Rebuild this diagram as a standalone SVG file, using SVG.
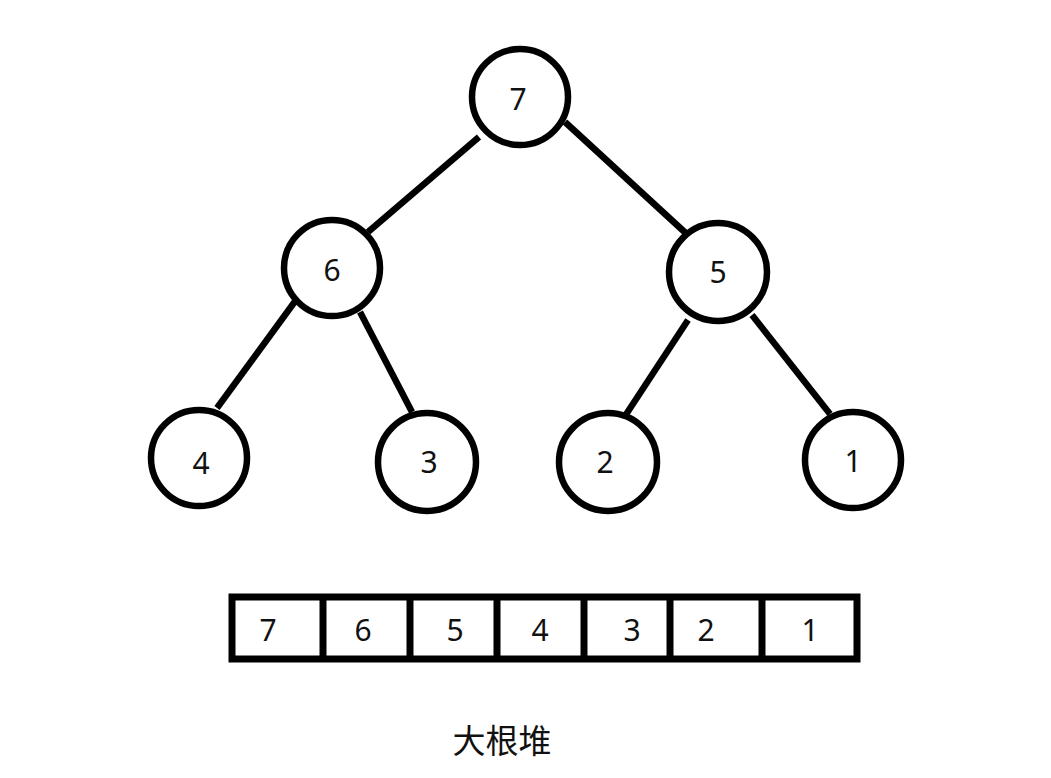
<svg xmlns="http://www.w3.org/2000/svg" width="1051" height="778" viewBox="0 0 1051 778">
<style>
.n{fill:#fff;stroke:#000;stroke-width:6.5}
.e{stroke:#000;stroke-width:6.5;fill:none}
.t{font-family:"Noto Sans","Open Sans","Liberation Sans",sans-serif;font-size:30px;fill:#111;text-anchor:middle;dominant-baseline:central}
.c{fill:#fff;stroke:#000;stroke-width:7}
</style>
<rect width="1051" height="778" fill="#fff"/>
<g id="connectors">
<line class="e" x1="479" y1="137" x2="368" y2="232"/>
<line class="e" x1="565" y1="122" x2="690" y2="237"/>
<line class="e" x1="296" y1="300" x2="217" y2="408"/>
<line class="e" x1="360" y1="312" x2="412" y2="412"/>
<line class="e" x1="688" y1="320" x2="625" y2="416"/>
<line class="e" x1="752" y1="315" x2="830" y2="414"/>
</g>
<g id="n7"><circle class="n" cx="520" cy="97" r="48"/><text class="t" x="518" y="98">7</text></g>
<g id="n6"><circle class="n" cx="332" cy="268" r="48"/><text class="t" x="332" y="269">6</text></g>
<g id="n5"><circle class="n" cx="718" cy="272" r="49"/><text class="t" x="718" y="271">5</text></g>
<g id="n4"><circle class="n" cx="199" cy="458" r="48"/><text class="t" x="201" y="462">4</text></g>
<g id="n3"><circle class="n" cx="427" cy="462" r="49"/><text class="t" x="429" y="461">3</text></g>
<g id="n2"><circle class="n" cx="608" cy="462" r="49"/><text class="t" x="605" y="461">2</text></g>
<g id="n1"><circle class="n" cx="853" cy="460" r="48"/><text class="t" x="853" y="460">1</text></g>
<g id="array">
<rect class="c" x="232" y="597" width="625" height="62"/>
<line class="e" style="stroke-width:7" x1="323" y1="597" x2="323" y2="659"/>
<line class="e" style="stroke-width:7" x1="410" y1="597" x2="410" y2="659"/>
<line class="e" style="stroke-width:7" x1="497" y1="597" x2="497" y2="659"/>
<line class="e" style="stroke-width:7" x1="584" y1="597" x2="584" y2="659"/>
<line class="e" style="stroke-width:7" x1="670" y1="597" x2="670" y2="659"/>
<line class="e" style="stroke-width:7" x1="762" y1="597" x2="762" y2="659"/>
<text class="t" x="268" y="629">7</text>
<text class="t" x="363" y="629">6</text>
<text class="t" x="455" y="629">5</text>
<text class="t" x="540" y="629">4</text>
<text class="t" x="632" y="629">3</text>
<text class="t" x="706" y="629">2</text>
<text class="t" x="810" y="629">1</text>
</g>
<g id="label"><text class="t" style="font-family:'Noto Sans CJK SC',sans-serif;font-size:33px" x="502" y="739">大根堆</text></g>
</svg>
